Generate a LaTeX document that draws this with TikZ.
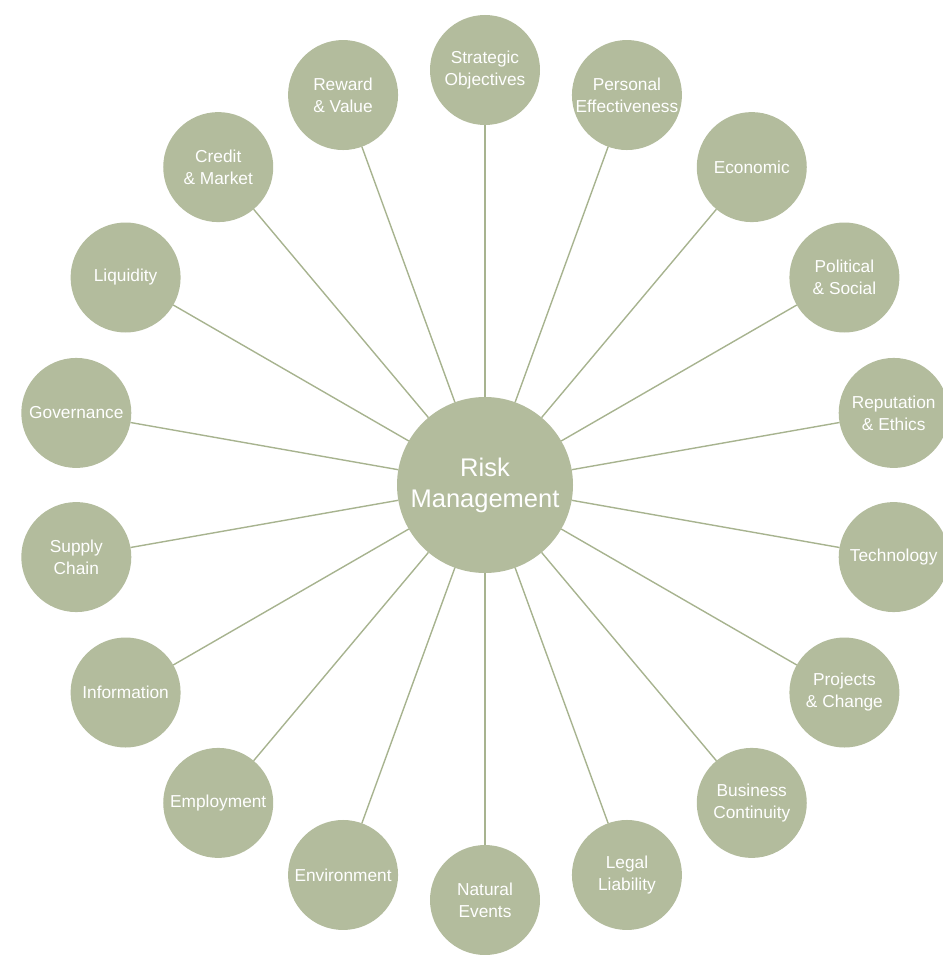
\documentclass[tikz,border=0pt]{standalone}
\usepackage{fontspec}
\setmainfont{Liberation Sans}
\definecolor{sage}{HTML}{B3BC9D}
\definecolor{sageline}{HTML}{A7B38F}
\tikzset{
  hub/.style={circle, fill=sage, minimum size=176pt, inner sep=0pt, outer sep=0pt,
    text=white, align=center, font=\fontsize{25.5}{31}\selectfont},
  leaf/.style={circle, fill=sage, minimum size=110pt, inner sep=0pt, outer sep=0pt,
    text=white, align=center, font=\fontsize{17.3}{22}\selectfont},
  link/.style={draw=sageline, line width=1.4pt}
}
\begin{document}
\begin{tikzpicture}[x=1pt,y=1pt]
\useasboundingbox (0,0) rectangle (942,-955);
\node[hub] (c) at (485,-485) {Risk\\Management};
\foreach \i/\t in {0/{Strategic\\Objectives},1/{Personal\\Effectiveness},2/{Economic},3/{Political\\\& Social},4/{Reputation\\\& Ethics},5/{Technology},6/{Projects\\\& Change},7/{Business\\Continuity},8/{Legal\\Liability},9/{Natural\\Events},10/{Environment},11/{Employment},12/{Information},13/{Supply\\Chain},14/{Governance},15/{Liquidity},16/{Credit\\\& Market},17/{Reward\\\& Value}}{
  \node[leaf] (n\i) at ({485+415*cos(90-20*\i)},{-485+415*sin(90-20*\i)}) {\t};
  \draw[link] (c) -- (n\i);
}
\end{tikzpicture}
\end{document}
